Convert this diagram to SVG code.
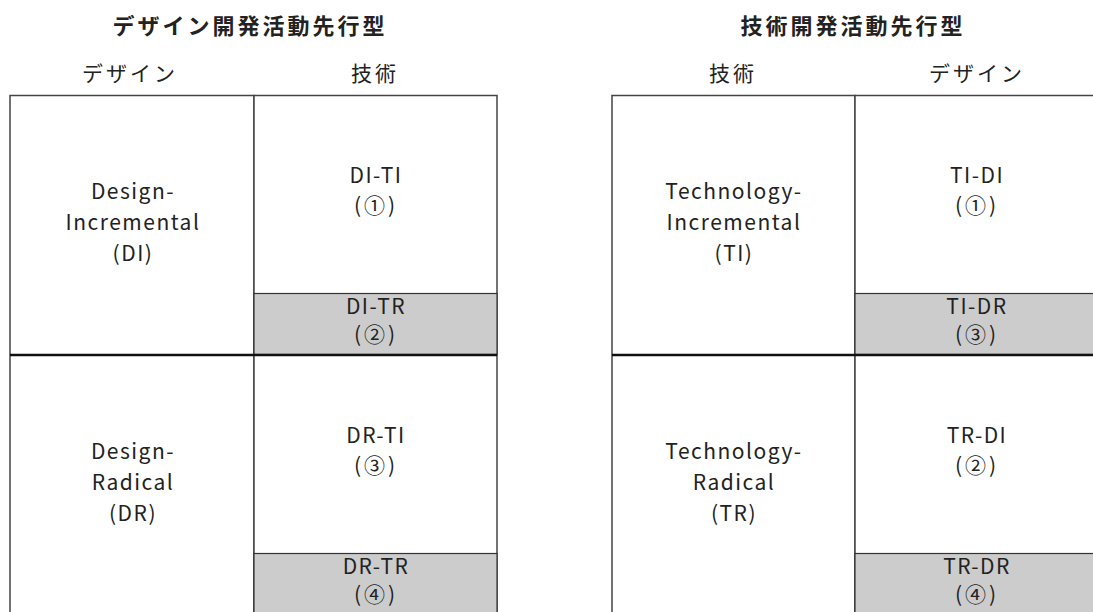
<svg xmlns="http://www.w3.org/2000/svg" width="1093" height="612" viewBox="0 0 1093 612">
<style>
text{font-family:"Noto Sans CJK JP","Noto Sans",sans-serif;fill:#222;text-anchor:middle}
.title{font-size:22px;font-weight:bold;letter-spacing:3px}
.hdr{font-size:21px;letter-spacing:3px}
.cell{font-size:21px;letter-spacing:1.5px}
.num{font-size:21px;letter-spacing:3px}
.box{fill:#fff;stroke:#444;stroke-width:1.5}
.gray{fill:#cccccc;stroke:#333;stroke-width:1.2}
.mid{stroke:#111;stroke-width:2.5}
</style>
<rect width="1093" height="612" fill="#fff"/>
<text class="title" x="250" y="34">デザイン開発活動先行型</text>
<text class="title" x="853" y="34">技術開発活動先行型</text>
<text class="hdr" x="130" y="81">デザイン</text>
<text class="hdr" x="375" y="81">技術</text>
<text class="hdr" x="733" y="81">技術</text>
<text class="hdr" x="977" y="81">デザイン</text>

<g id="left-table">
<rect class="box" x="10" y="95.5" width="244" height="530"/>
<rect class="box" x="254" y="95.5" width="243" height="530"/>
<rect class="gray" x="254" y="293.5" width="243" height="61"/>
<rect class="gray" x="254" y="553.5" width="243" height="70"/>
<line class="mid" x1="10" y1="355" x2="497" y2="355"/>
</g>
<g id="right-table">
<rect class="box" x="612" y="95.5" width="243" height="530"/>
<rect class="box" x="855" y="95.5" width="250" height="530"/>
<rect class="gray" x="855" y="293.5" width="250" height="61"/>
<rect class="gray" x="855" y="553.5" width="250" height="70"/>
<line class="mid" x1="612" y1="355" x2="1100" y2="355"/>
</g>

<g id="DI"><text class="cell" x="133" y="199">Design-</text><text class="cell" x="133" y="230">Incremental</text><text class="cell" x="133" y="261">(DI)</text></g>
<g id="DR"><text class="cell" x="133" y="459">Design-</text><text class="cell" x="133" y="490">Radical</text><text class="cell" x="133" y="521">(DR)</text></g>
<g id="DI-TI"><text class="cell" x="376" y="183">DI-TI</text><text class="num" x="376" y="213">(①)</text></g>
<g id="DI-TR"><text class="cell" x="376" y="314">DI-TR</text><text class="num" x="376" y="342">(②)</text></g>
<g id="DR-TI"><text class="cell" x="376" y="443">DR-TI</text><text class="num" x="376" y="473">(③)</text></g>
<g id="DR-TR"><text class="cell" x="376" y="574">DR-TR</text><text class="num" x="376" y="602">(④)</text></g>

<g id="TI"><text class="cell" x="734" y="199">Technology-</text><text class="cell" x="734" y="230">Incremental</text><text class="cell" x="734" y="261">(TI)</text></g>
<g id="TR"><text class="cell" x="734" y="459">Technology-</text><text class="cell" x="734" y="490">Radical</text><text class="cell" x="734" y="521">(TR)</text></g>
<g id="TI-DI"><text class="cell" x="977" y="183">TI-DI</text><text class="num" x="977" y="213">(①)</text></g>
<g id="TI-DR"><text class="cell" x="977" y="314">TI-DR</text><text class="num" x="977" y="342">(③)</text></g>
<g id="TR-DI"><text class="cell" x="977" y="443">TR-DI</text><text class="num" x="977" y="473">(②)</text></g>
<g id="TR-DR"><text class="cell" x="977" y="574">TR-DR</text><text class="num" x="977" y="602">(④)</text></g>
<g id="connectors"/>
</svg>
